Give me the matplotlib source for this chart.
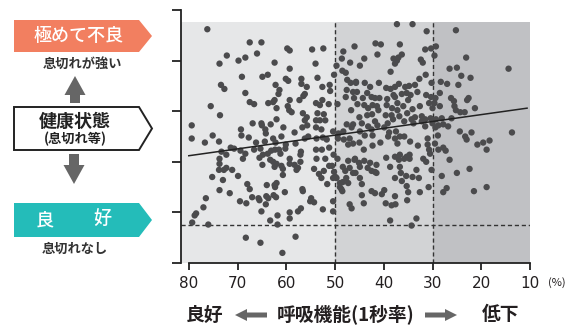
import matplotlib
matplotlib.use("Agg")
import matplotlib.pyplot as plt
from matplotlib.patches import Polygon

plt.rcParams['font.family'] = ['Noto Sans CJK JP', 'DejaVu Sans']

# 1秒率(%) と 息切れの程度（上ほど強い）
fev1 = [
    76.2, 67.5, 65.1, 59.8, 59.3, 54.7, 52.4, 72.2, 66.0, 68.4,
    69.8, 73.7, 62.4, 54.0, 59.3, 69.1, 64.9, 63.8, 60.1, 59.6,
    56.9, 53.6, 50.2, 73.4, 72.7, 62.2, 61.4, 61.6, 56.9, 55.8,
    52.6, 51.1, 68.4, 56.2, 56.5, 51.0, 59.3, 57.3, 62.4, 62.7,
    67.5, 66.6, 63.7, 53.9, 53.1, 52.6, 51.3, 49.5, 75.5, 62.0,
    59.7, 59.4, 58.9, 56.6, 53.6, 52.3, 73.6, 55.8, 56.2, 53.9,
    53.1, 52.0, 62.0, 66.9, 65.1, 65.0, 63.2, 79.4, 60.6, 55.7,
    56.7, 53.9, 52.8, 50.4, 69.3, 64.3, 64.2, 58.3, 46.0, 48.3,
    48.6, 46.9, 49.7, 48.5, 47.8, 47.5, 46.8, 45.7, 47.6, 46.3,
    46.1, 47.8, 46.7, 47.6, 46.3, 46.6, 48.3, 49.3,
    37.3, 34.1, 31.2, 25.2, 41.7, 40.6, 36.7, 30.3, 31.5, 29.3,
    41.3, 36.3, 37.0, 38.0, 37.3, 37.7, 44.0, 44.9, 32.4, 32.0,
    29.6, 23.1, 38.6, 26.5, 25.0, 14.4, 31.4, 32.7, 24.1, 22.2,
    45.7, 43.9, 42.8, 41.0, 39.5, 38.6, 37.7, 36.9, 35.6, 34.8,
    33.6, 30.2, 28.3, 27.0, 24.7, 45.5, 43.4, 42.5, 44.3, 41.8,
    40.9, 39.3, 38.0, 37.7, 36.3, 35.3, 34.5, 33.1, 31.3, 30.3,
    29.4, 28.5, 26.2, 25.6, 22.6, 22.9, 45.4, 44.0, 43.2, 42.3,
    41.4, 41.1, 39.4, 38.3, 37.2, 37.2, 36.0, 35.0, 34.1, 32.6,
    30.7, 29.6, 30.0, 28.5, 25.5, 25.2, 24.3, 23.4, 21.3, 45.0,
    43.4, 42.4, 39.6, 38.4, 38.1, 36.8, 35.2, 34.3, 33.6, 32.2,
    31.5, 30.4, 29.3, 28.1, 26.1, 44.5, 43.2, 41.8, 41.3, 39.2,
    35.8, 33.9, 32.2, 31.5, 30.0, 29.4, 28.8, 27.8, 26.8, 44.9,
    42.5, 39.9, 38.9, 37.5, 24.4, 22.0, 13.7,
    79.4, 76.7, 75.1, 73.8, 69.2, 67.7, 66.2, 64.4, 62.7, 62.2,
    61.0, 60.1, 58.1, 56.2, 55.5, 53.8, 52.5, 51.7, 49.4, 48.2,
    47.0, 47.3, 46.3, 71.4, 70.7, 69.4, 73.3, 72.3, 68.4, 68.9,
    66.6, 65.3, 65.5, 64.8, 63.8, 63.1, 62.3, 61.5, 61.2, 60.2,
    57.0, 57.1, 53.9, 52.7, 51.2, 50.3, 49.5, 53.8, 52.0, 73.7,
    73.7, 73.8, 72.3, 72.8, 71.1, 69.9, 64.9, 63.3, 62.7, 62.4,
    62.0, 61.0, 60.7, 59.3, 59.3, 58.3, 57.9, 57.1, 57.6, 54.3,
    53.3, 52.3, 51.2, 50.6, 50.2, 49.7, 50.4, 48.4, 47.9, 47.0,
    46.3, 47.3, 46.0, 75.2, 73.0, 73.7, 71.6, 68.0, 67.5, 64.0,
    62.4, 62.0, 62.3, 60.3, 60.7, 56.7, 56.6, 52.8, 51.6, 49.9,
    49.0, 48.4, 47.7, 47.3, 48.7, 48.5, 77.0, 76.5, 78.8, 78.5,
    79.3, 76.0, 69.5, 68.2, 67.0, 65.7, 65.5, 64.1, 63.7, 64.2,
    62.6, 62.1, 65.1, 61.8, 63.3, 61.8, 59.3, 59.3, 57.6, 57.0,
    58.1, 54.9, 54.3, 55.1, 52.5, 50.4, 50.4, 49.0, 47.0, 46.6,
    68.3, 65.3, 60.8,
    43.9, 42.3, 39.1, 37.7, 37.2, 36.7, 35.8, 34.6, 33.0, 31.0,
    31.0, 30.7, 30.5, 28.9, 29.5, 28.8, 27.8, 27.3, 26.5, 25.0,
    23.0, 23.3, 20.8, 19.6, 18.3, 18.9, 22.4, 18.9, 21.5, 27.1,
    27.8, 28.1, 45.0, 44.1, 42.3, 40.7, 45.9, 45.1, 44.9, 44.0,
    43.3, 42.8, 42.5, 41.8, 41.5, 41.5, 45.8, 44.9, 44.5, 44.5,
    44.1, 39.5, 37.7, 38.7, 36.7, 36.9, 35.8, 35.3, 34.7, 34.7,
    36.7, 36.5, 37.7, 36.3, 35.4, 34.1, 33.3, 32.8, 31.9, 31.3,
    30.2, 35.3, 35.0, 32.6, 30.8, 42.5, 41.8, 40.4, 39.9, 37.7,
    35.2, 39.6, 38.4, 37.6, 38.7, 34.3, 33.3,
]
dyspnea = [
    231, 218, 218, 212, 210, 211, 212, 205, 207, 203,
    200, 197, 198, 197, 192, 184, 184, 186, 182, 180,
    182, 183, 186, 176, 172, 176, 171, 167, 177, 174,
    174, 176, 168, 167, 165, 170, 161, 161, 161, 159,
    159, 157, 158, 158, 156, 161, 157, 157, 155, 153,
    155, 151, 149, 148, 148, 147, 146, 144, 141, 141,
    141, 141, 142, 138, 138, 136, 137, 136, 134, 136,
    134, 134, 132, 130, 132, 132, 128, 129, 214, 209,
    202, 198, 195, 190, 188, 181, 178, 178, 171, 169,
    163, 164, 151, 137, 137, 134, 130, 128,
    236, 236, 229, 230, 217, 216, 216, 212, 211, 214,
    206, 206, 203, 202, 200, 197, 202, 195, 201, 198,
    205, 203, 189, 192, 193, 192, 186, 182, 185, 183,
    179, 178, 174, 178, 173, 172, 174, 177, 174, 175,
    176, 178, 179, 177, 176, 169, 168, 164, 163, 163,
    163, 162, 166, 164, 167, 168, 166, 169, 166, 164,
    163, 168, 163, 160, 163, 161, 157, 156, 153, 156,
    155, 151, 156, 153, 158, 151, 155, 161, 152, 155,
    158, 158, 153, 155, 155, 151, 149, 149, 153, 144,
    146, 147, 146, 146, 142, 145, 148, 142, 144, 145,
    142, 143, 142, 143, 143, 138, 135, 140, 136, 138,
    140, 138, 140, 135, 138, 134, 136, 137, 135, 130,
    132, 134, 129, 130, 130, 129, 129,
    123, 119, 126, 120, 126, 124, 119, 120, 123, 119,
    125, 117, 118, 123, 125, 123, 124, 122, 123, 122,
    123, 117, 118, 114, 113, 111, 110, 107, 108, 103,
    112, 113, 104, 107, 108, 111, 112, 112, 108, 113,
    110, 107, 112, 112, 114, 107, 103, 103, 103, 103,
    98, 92, 94, 92, 92, 86, 97, 102, 100, 95,
    98, 96, 93, 103, 98, 97, 92, 100, 94, 93,
    88, 91, 96, 96, 90, 84, 84, 95, 91, 94,
    89, 101, 102, 85, 82, 72, 69, 78, 73, 77,
    77, 79, 75, 70, 87, 73, 71, 84, 78, 85,
    79, 80, 84, 79, 73, 71, 55, 64, 47, 49,
    40, 38, 61, 59, 65, 64, 62, 66, 64, 58,
    67, 65, 51, 47, 42, 38, 50, 44, 51, 54,
    26, 64, 60, 61, 53, 61, 51, 75, 58, 54,
    25, 20, 10,
    126, 126, 125, 123, 118, 125, 125, 120, 116, 123,
    117, 112, 108, 126, 118, 112, 114, 111, 102, 89,
    122, 125, 117, 119, 121, 112, 93, 75, 71, 74,
    70, 86, 119, 112, 116, 119, 103, 99, 95, 101,
    94, 99, 91, 90, 97, 89, 89, 84, 78, 67,
    59, 104, 105, 95, 107, 102, 103, 105, 103, 107,
    95, 89, 84, 81, 86, 85, 92, 84, 103, 100,
    92, 76, 70, 70, 75, 71, 69, 68, 72, 66,
    62, 59, 57, 58, 42, 37, 44,
]

trend_x = [80, 10.6]
trend_y = [106, 153]

zone_edges = [81.6, 50, 30, 10]
zone_colors = ['#e6e7e8', '#d2d3d5', '#c0c1c4']
cutoffs = [50, 30]
good_level = 38
zone_top = 238
x_ticks = [80, 70, 60, 50, 40, 30, 20, 10]
y_ticks = [0, 50, 100, 150, 200, 250]

W, H = 578, 327
fig = plt.figure(figsize=(W / 100, H / 100), dpi=100)

# 左側の説明用レイヤー（ピクセル座標）
ov = fig.add_axes([0, 0, 1, 1])
ov.set_xlim(0, W)
ov.set_ylim(H, 0)
ov.axis('off')

ax = fig.add_axes([181 / W, 1 - 263 / H, 349 / W, 253 / H])
ax.patch.set_alpha(0)

for i, c in enumerate(zone_colors):
    ax.fill_between([zone_edges[i], zone_edges[i + 1]], 0, zone_top, color=c, lw=0, zorder=0)
ax.vlines(cutoffs, 0, zone_top, colors='#333333', linestyles=(0, (3, 2)), lw=1, zorder=1)
ax.hlines(good_level, zone_edges[0], zone_edges[-1], colors='#333333', linestyles=(0, (3, 2)), lw=1, zorder=1)
ax.scatter(fev1, dyspnea, s=21, color='#4b4b4d', edgecolors='none', zorder=3)
ax.plot(trend_x, trend_y, color='#222222', lw=1.1, zorder=4)

ax.set_xlim(zone_edges[0], zone_edges[-1])
ax.set_ylim(0, 250)
ax.set_xticks(x_ticks)
ax.set_xticklabels([str(t) for t in x_ticks], family=['DejaVu Sans'])
ax.set_yticks(y_ticks)
for s in ['top', 'right']:
    ax.spines[s].set_visible(False)
ax.spines['left'].set_bounds(0, 250)
ax.spines['bottom'].set_bounds(80, 10)
for s in ['left', 'bottom']:
    ax.spines[s].set_color('#222222')
    ax.spines[s].set_linewidth(1.3)
ax.tick_params(axis='y', length=6.5, width=1.3, color='#222222', labelleft=False)
ax.tick_params(axis='x', length=5, width=1.3, color='#222222', pad=4,
               labelsize=11, labelcolor='#231f20')

# 凡例的な説明ボックス
orange = '#f27f60'
teal = '#24bcb9'
arrow_gray = '#666666'
ov.add_patch(Polygon([(14, 20), (139, 20), (152, 36), (139, 52), (14, 52)], closed=True,
                     fc=orange, ec='none'))
ov.text(79, 36, '極めて不良', color='white', fontsize=13, fontweight='medium',
        ha='center', va='center')
ov.text(82, 64, '息切れが強い', color='#333333', fontsize=9.5, fontweight='bold',
        ha='center', va='center')
ov.add_patch(Polygon([(75, 76), (85.5, 95), (80, 95), (80, 103), (70, 103), (70, 95), (64.5, 95)],
                     closed=True, fc=arrow_gray, ec='none'))
ov.add_patch(Polygon([(14, 107), (139, 107), (152, 128.5), (139, 150), (14, 150)], closed=True,
                     fc='white', ec='#222222', lw=1.4))
ov.text(75, 121, '健康状態', color='#222222', fontsize=13, fontweight='bold', ha='center', va='center')
ov.text(75, 139, '(息切れ等)', color='#222222', fontsize=9.5, fontweight='bold',
        ha='center', va='center')
ov.add_patch(Polygon([(74, 184), (84.5, 165), (79, 165), (79, 154), (69, 154), (69, 165), (63.5, 165)],
                     closed=True, fc=arrow_gray, ec='none'))
ov.add_patch(Polygon([(14, 203), (139, 203), (152, 220), (139, 237), (14, 237)], closed=True,
                     fc=teal, ec='none'))
ov.text(45, 220, '良', color='white', fontsize=13, fontweight='medium', ha='center', va='center')
ov.text(102, 220, '好', color='white', fontsize=13, fontweight='medium', ha='center', va='center')
ov.text(75, 249, '息切れなし', color='#333333', fontsize=9.5, fontweight='bold',
        ha='center', va='center')

# 横軸の説明
ov.text(557, 283, '(%)', color='#231f20', fontsize=8, ha='center', va='center')
ov.text(205, 315, '良好', color='#231f20', fontsize=13.5, fontweight='bold', ha='center', va='center')
ov.text(346, 315, '呼吸機能(1秒率)', color='#231f20', fontsize=13.5, fontweight='bold',
        ha='center', va='center')
ov.text(501, 315, '低下', color='#231f20', fontsize=13.5, fontweight='bold', ha='center', va='center')
ov.add_patch(Polygon([(235, 315), (247, 309), (247, 312.5), (267, 312.5), (267, 317.5), (247, 317.5),
                      (247, 321)], closed=True, fc=arrow_gray, ec='none'))
ov.add_patch(Polygon([(457, 315), (445, 309), (445, 312.5), (425, 312.5), (425, 317.5), (445, 317.5),
                      (445, 321)], closed=True, fc=arrow_gray, ec='none'))

fig.savefig('out.png', dpi=100)
